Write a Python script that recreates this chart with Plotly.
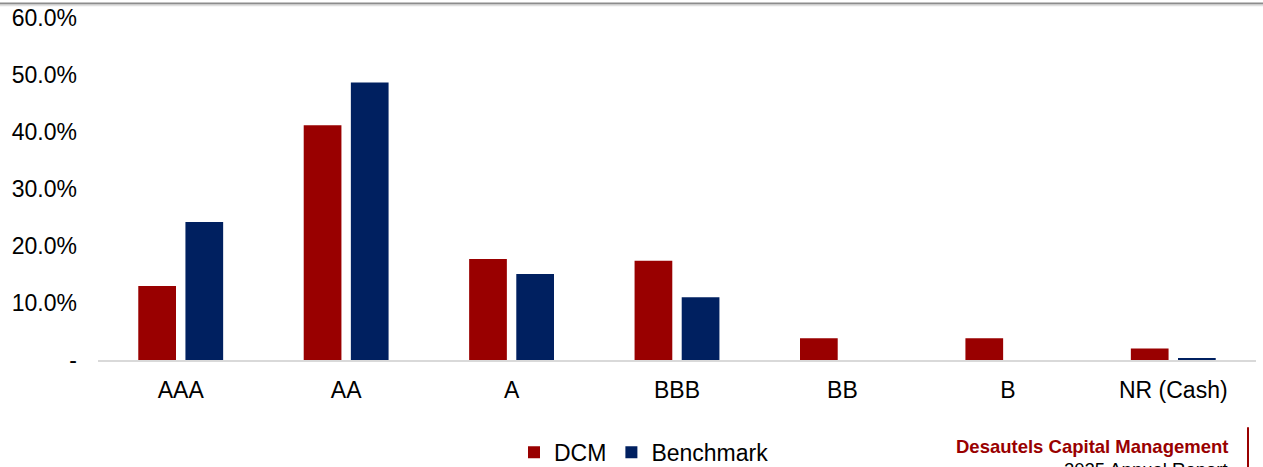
import plotly.graph_objects as go

# Credit quality breakdown: DCM portfolio vs. benchmark (% of holdings)
ratings = ["AAA", "AA", "A", "BBB", "BB", "B", "NR (Cash)"]
dcm = [13.0, 41.2, 17.7, 17.4, 3.8, 3.8, 2.0]
benchmark = [24.2, 48.7, 15.1, 11.0, 0.0, 0.0, 0.2]

y_ticks = [0, 10, 20, 30, 40, 50, 60]
y_tick_labels = ["-", "10.0%", "20.0%", "30.0%", "40.0%", "50.0%", "60.0%"]

RED = "#990000"
NAVY = "#002060"
FONT = "Liberation Sans, Arial, sans-serif"

W, H = 1263, 467
ML, MR, MT, MB = 98, 7, 17.5, 106.5
PW = W - ML - MR
PH = H - MT - MB

fig = go.Figure()
fig.add_trace(go.Bar(name="DCM", x=ratings, y=dcm, marker_color=RED,
                     marker_line_width=0))
fig.add_trace(go.Bar(name="Benchmark", x=ratings, y=benchmark, marker_color=NAVY,
                     marker_line_width=0))


def px_x(x):
    return (x - ML) / PW


def px_y(y):
    return (H - MB - y) / PH


fig.update_layout(
    width=W,
    height=H,
    margin=dict(l=ML, r=MR, t=MT, b=MB, pad=0, autoexpand=False),
    paper_bgcolor="white",
    plot_bgcolor="white",
    font=dict(family=FONT, size=23, color="#000000"),
    barmode="group",
    bargap=0.43,
    bargroupgap=0.2,
    showlegend=True,
    legend=dict(
        orientation="h",
        x=px_x(644),
        xanchor="center",
        y=px_y(453),
        yanchor="middle",
        font=dict(family=FONT, size=23, color="#000000"),
        bgcolor="rgba(0,0,0,0)",
        itemclick=False,
        itemwidth=30,
    ),
    xaxis=dict(
        showgrid=False,
        showline=True,
        linecolor="#d9d9d9",
        linewidth=2,
        ticks="",
        ticklabelstandoff=8,
        tickfont=dict(family=FONT, size=23, color="#000000"),
        fixedrange=True,
    ),
    yaxis=dict(
        range=[0, 60],
        tickvals=y_ticks,
        ticktext=y_tick_labels,
        showgrid=False,
        zeroline=False,
        showline=False,
        ticks="",
        ticklabelstandoff=20,
        tickfont=dict(family=FONT, size=23, color="#000000"),
        fixedrange=True,
    ),
    shapes=[
        # header rule across the page
        dict(type="line", xref="paper", yref="paper",
             x0=px_x(0), x1=px_x(W), y0=px_y(3), y1=px_y(3),
             line=dict(color="#8c8c8c", width=2)),
        dict(type="line", xref="paper", yref="paper",
             x0=px_x(0), x1=px_x(W), y0=px_y(5), y1=px_y(5),
             line=dict(color="#e0e0e0", width=1.5)),
        # footer divider
        dict(type="line", xref="paper", yref="paper",
             x0=px_x(1248), x1=px_x(1248), y0=px_y(428), y1=px_y(H + 2),
             line=dict(color=RED, width=2)),
    ],
    annotations=[
        dict(text="<b>Desautels Capital Management</b>", xref="paper", yref="paper",
             x=px_x(1230), y=px_y(447), xanchor="right", yanchor="middle",
             showarrow=False, font=dict(family=FONT, size=18.5, color=RED)),
        dict(text="2025 Annual Report", xref="paper", yref="paper",
             x=px_x(1230), y=px_y(470), xanchor="right", yanchor="middle",
             showarrow=False, font=dict(family=FONT, size=18.5, color="#000000")),
    ],
)

fig.write_html("out.html", config={"displayModeBar": False})
